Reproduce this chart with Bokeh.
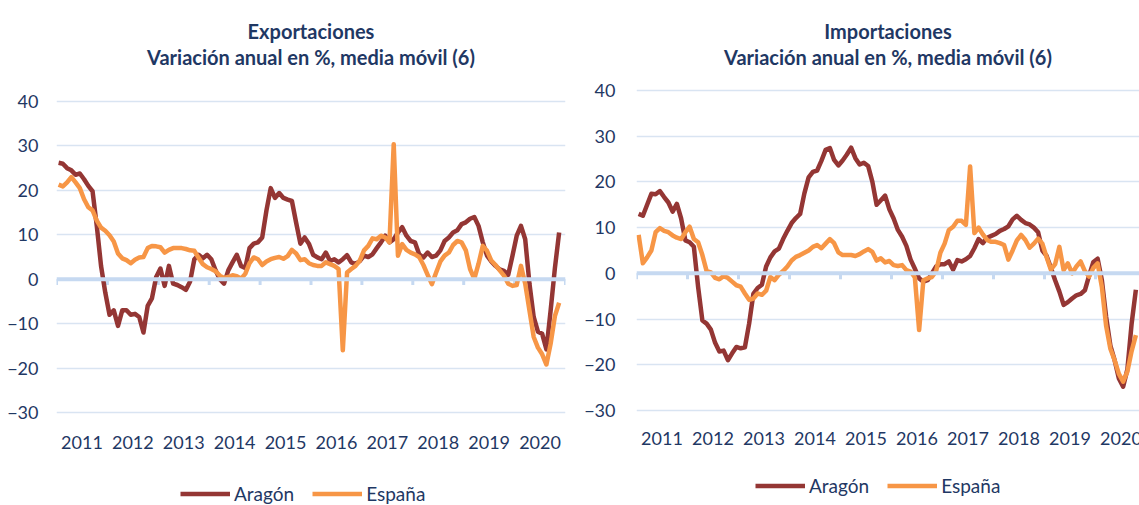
import pandas as pd
from bokeh.plotting import figure
from bokeh.models import (FixedTicker, Span, Legend, LegendItem, Title, Range1d,
                          ColumnDataSource, LabelSet)
from bokeh.core.properties import value
from bokeh.layouts import row
from bokeh.embed import file_html
from bokeh.resources import INLINE

# ---------------- data (monthly, 6-month moving average of annual % change) -------------
years = list(range(2011, 2021))
year_labels = [str(y) for y in years]

months_exp = pd.date_range("2011-01-01", "2020-11-01", freq="MS")   # 119 months
months_imp = pd.date_range("2011-01-01", "2020-10-01", freq="MS")   # 118 months

exp_aragon = [26.2, 26, 25, 24.5, 23.5, 23.8, 22.5, 21, 19.8, 12,
              3, -3, -8, -7, -10.5, -7, -7, -8, -7.8, -8.5,
              -12, -6, -4.3, 0.5, 2.4, -1.5, 3, -1, -1.3, -1.8,
              -2.4, -0.5, 4.5, 5.5, 4.7, 5.5, 4.5, 2, 0, -1,
              2, 3.8, 5.5, 3, 2.5, 7, 8, 8.3, 9.4, 15.5,
              20.5, 18.3, 19.4, 18.3, 17.9, 17.6, 12.7, 8, 9.4, 8,
              5.5, 4.9, 4.5, 6, 4.1, 4.5, 3.8, 4.5, 5.4, 3.8,
              3.4, 4.1, 5.3, 5, 5.6, 7, 8.3, 9.8, 8.3, 9,
              10.5, 11.7, 9.8, 8.6, 8.3, 5.6, 4.9, 6, 5, 5.3,
              6.5, 8.6, 9.4, 10.5, 11, 12.4, 12.8, 13.6, 14, 12,
              8.3, 5.3, 4, 3, 2.2, 1.9, 1, 5.3, 9.8, 12,
              9, -1, -8.5, -11.8, -12.3, -15.8, -7, 2.5, 10.5]

exp_espana = [21.3, 20.9, 21.8, 23, 21.8, 20.5, 18, 16.2, 15.5, 13.2,
              11.6, 10.9, 9.9, 8.5, 5.8, 4.7, 4.3, 3.6, 4.4, 4.9,
              5, 7, 7.5, 7.4, 7.2, 6, 6.6, 7, 7, 7,
              6.8, 6.5, 6.4, 4.8, 3.4, 2.7, 2.3, 1.8, 0.8, 0.3,
              0.5, 0.9, 0.7, 0.1, 1.2, 3.6, 4.9, 4.5, 3.2, 4,
              4.5, 4.8, 5, 4.6, 5.2, 6.6, 5.8, 4.3, 4.5, 3.6,
              3.2, 3, 3, 3.8, 3.4, 3, 2.3, -16, 1.5, 2.3,
              3, 4.2, 6.5, 7.5, 9.2, 9, 9.8, 9.4, 8.3, 30.4,
              5.3, 7.9, 6.6, 6, 5.6, 5, 3.2, 1, -1.1, 1.5,
              4, 5.3, 6, 7.7, 8.6, 8.3, 6.5, 2.3, 0.1, 3.5,
              7.5, 6.4, 4.2, 3.2, 2, 0.8, -1, -1.5, -1.3, 3,
              -1, -7, -13, -15.4, -16.9, -19.2, -14.5, -8.3, -5.3]

imp_aragon = [13, 12.6, 15, 17.4, 17.3, 18, 16.7, 15.5, 13.5, 15.2,
              12, 7.2, 6.8, 5.8, -3, -10.3, -11, -12.3, -15.2, -17.1,
              -16.9, -19, -17.5, -16.1, -16.4, -16.2, -11, -4.5, -3.2, -2.5,
              1.5, 3.5, 4.8, 5.4, 7.5, 9.3, 11, 12.1, 13, 17.5,
              21, 22.2, 22.5, 24.6, 27, 27.4, 24.8, 23.6, 24.7, 26,
              27.5, 25.2, 23.8, 24.2, 23.5, 20, 15, 16, 17, 14,
              12, 9.5, 8, 6, 3, 1, -1.1, -1.8, -1.5, 0,
              1.5, 2, 2, 2.6, 0.8, 2.9, 2.6, 3.1, 3.8, 5.5,
              7.5, 6.6, 7.8, 8.2, 8.6, 9.3, 9.7, 10.3, 11.8, 12.6,
              11.7, 11, 10.7, 10, 9, 5, 3.8, 1.2, -1.5, -4,
              -6.9, -6.3, -5.5, -4.8, -4.5, -3.7, -0.5, 2.5, 3.2, -1.5,
              -9.5, -15.8, -19, -23, -24.8, -21, -11, -3.6]

imp_espana = [8.4, 2.2, 3.5, 5, 9, 9.9, 9.3, 9, 8.3, 7.8,
              7.5, 9, 10.2, 7.5, 6.8, 4, 0.5, 0.2, -1, -1.3,
              -0.6, -1, -1.8, -2.6, -2.9, -4.4, -5.8, -5.5, -4.4, -4.7,
              -3.8, -0.8, -1.5, -0.3, 0.5, 1.5, 2.8, 3.6, 4, 4.5,
              5, 5.8, 6.2, 5.5, 6.5, 7.5, 6.6, 4.6, 4, 4,
              4, 3.8, 4.2, 4.8, 5.3, 4.7, 2.8, 3.3, 2.4, 2.7,
              1.8, 1.6, 1.8, 0.7, 0.4, -0.9, -12.4, -1.5, -1.1, -0.8,
              0.5, 4.5, 6.5, 9.5, 10.2, 11.5, 11.5, 10.6, 23.4, 8.8,
              10, 8.5, 7.3, 6.9, 6.9, 6.6, 6.2, 3, 5, 7.2,
              8.4, 7.3, 5.6, 6.5, 7.6, 6.5, 3.5, 0.8, 2, 5.8,
              0.7, 2.2, 0, 1.5, 2.6, 0.5, -0.7, 1.2, 2.2, -3,
              -11.5, -16.5, -19, -22, -23.7, -21.5, -17, -13.5]

y_ticks = [-30, -20, -10, 0, 10, 20, 30, 40]
series_names = ["Aragón", "España"]

# ---------------- style ----------------
FONT = "Lato"
TXT = "#1F3864"
C_ARAGON = "#943634"
C_ESPANA = "#F79646"
GRID = "#D9E4F2"
ZERO = "#C6D9F1"


def decimal_year(idx):
    return [d.year + (d.month - 0.5) / 12 for d in idx]


def make_chart(title_main, aragon, espana, months, width, height, b_left, b_right,
               b_top, x_end, y_start, y_end, y_lab_standoff, year_label_y, legend_loc):
    p = figure(width=width, height=height, output_backend="svg", toolbar_location=None,
               x_range=Range1d(2011, x_end), y_range=Range1d(y_start, y_end),
               x_axis_location=None,
               min_border_left=b_left, min_border_right=b_right,
               min_border_top=b_top, min_border_bottom=0)
    p.outline_line_color = None

    sub = Title(text="Variación anual en %, media móvil (6)", align="center",
                text_font=FONT, text_font_size="20px", text_font_style="bold",
                text_color=TXT, standoff=1)
    main = Title(text=title_main, align="center", text_font=FONT, text_font_size="20px",
                 text_font_style="bold", text_color=TXT, standoff=0)
    p.add_layout(sub, "above")
    p.add_layout(main, "above")

    p.xgrid.visible = False
    p.ygrid.ticker = FixedTicker(ticks=y_ticks)
    p.ygrid.grid_line_color = GRID
    p.ygrid.grid_line_width = 1.5

    p.yaxis.ticker = FixedTicker(ticks=y_ticks)
    p.yaxis.axis_line_color = None
    p.yaxis.major_tick_line_color = None
    p.yaxis.minor_tick_line_color = None
    p.yaxis.major_label_text_font = FONT
    p.yaxis.major_label_text_font_size = "18px"
    p.yaxis.major_label_text_color = TXT
    p.yaxis.major_label_standoff = y_lab_standoff

    # year labels, centred in each year, below the -30 gridline
    centers = [y + 0.5 for y in years]
    lab_src = ColumnDataSource(dict(x=centers, y=[year_label_y] * len(centers),
                                    t=year_labels))
    p.add_layout(LabelSet(x="x", y="y", text="t", source=lab_src,
                          text_align="center", text_baseline="middle",
                          text_font=value(FONT), text_font_size=value("18px"),
                          text_color=value(TXT)))

    # zero line with year-boundary tick marks
    p.add_layout(Span(location=0, dimension="width", line_color=ZERO, line_width=4))
    bounds = [y for y in years + [years[-1] + 1] if y <= x_end]
    p.segment(x0=bounds, y0=[0] * len(bounds), x1=bounds, y1=[-1.3] * len(bounds),
              line_color=ZERO, line_width=3)

    xs = decimal_year(months)
    src = ColumnDataSource(dict(x=xs, a=aragon, e=espana))
    ra = p.line("x", "a", source=src, line_color=C_ARAGON, line_width=4.5,
                line_join="round")
    re_ = p.line("x", "e", source=src, line_color=C_ESPANA, line_width=4.5,
                 line_join="round")

    leg = Legend(items=[LegendItem(label=series_names[0], renderers=[ra]),
                        LegendItem(label=series_names[1], renderers=[re_])],
                 orientation="horizontal", location=legend_loc,
                 label_text_font=FONT, label_text_font_size="19px",
                 label_text_color=TXT, glyph_width=50, glyph_height=21,
                 label_height=21, label_standoff=4, spacing=18, padding=0, margin=0,
                 border_line_color=None, background_fill_alpha=0)
    p.add_layout(leg)
    return p


# left chart: frame x 56..565, y 69..505 ; 40 -> y=101, -30 -> y=412
left = make_chart("Exportaciones", exp_aragon, exp_espana, months_exp,
                  width=570, height=505, b_left=56, b_right=5, b_top=69,
                  x_end=2021, y_start=-30 - 93 / 4.443, y_end=40 + 32 / 4.443,
                  y_lab_standoff=12, year_label_y=-30 - 30 / 4.443,
                  legend_loc=(124, 0))

# right chart: frame x 636..1139, y 69..505 ; 40 -> y=90, -30 -> y=410
right = make_chart("Importaciones", imp_aragon, imp_espana, months_imp,
                   width=569, height=505, b_left=66, b_right=0, b_top=69,
                   x_end=2011 + 503 / 51, y_start=-30 - 95 / 4.571,
                   y_end=40 + 21 / 4.571, y_lab_standoff=15,
                   year_label_y=-30 - 28 / 4.571, legend_loc=(119, 8))

layout = row(left, right)
open("out.html", "w").write(file_html(layout, INLINE))
